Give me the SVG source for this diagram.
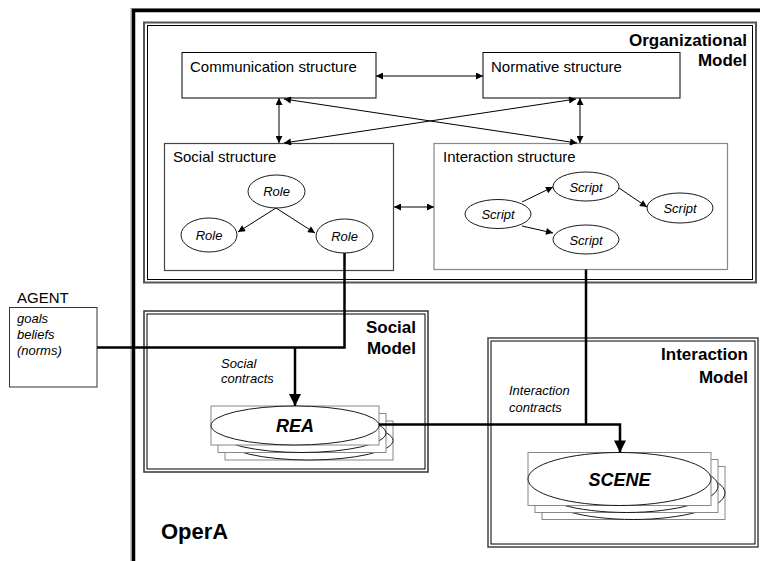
<svg xmlns="http://www.w3.org/2000/svg" width="760" height="561" viewBox="0 0 760 561">
<style>
text{font-family:"Liberation Sans",Arial,sans-serif;fill:#000}
.title{font-weight:bold;font-size:17px}
.lbl{font-size:15px}
.it{font-style:italic;font-size:13px}
.bi{font-style:italic;font-weight:bold;font-size:18px}
.box{fill:#fff;stroke:#000;stroke-width:1}
.gbox{fill:#fff;stroke:#888;stroke-width:1.2}
.ell{fill:#fff;stroke:#000;stroke-width:0.9}
.srect{fill:#fff;stroke:#888;stroke-width:1}
.thin{fill:none;stroke:#000;stroke-width:1}
.thick{fill:none;stroke:#000;stroke-width:2.5}
</style>
<defs>
<marker id="ah" viewBox="0 0 10 10" refX="10" refY="5" markerWidth="8" markerHeight="7" markerUnits="userSpaceOnUse" orient="auto-start-reverse"><path d="M0,0 L10,5 L0,10 z" fill="#000"/></marker>
<marker id="ahb" viewBox="0 0 10 10" refX="10" refY="5" markerWidth="13" markerHeight="12" markerUnits="userSpaceOnUse" orient="auto"><path d="M0,0 L10,5 L0,10 z" fill="#000"/></marker>
</defs>
<rect width="760" height="561" fill="#fff"/>

<g id="opera">
<rect x="131" y="8.5" width="700" height="600" fill="none" stroke="#999" stroke-width="1"/>
<rect x="133.5" y="10.5" width="700" height="600" fill="none" stroke="#000" stroke-width="3.5"/>
<text x="161" y="539" font-weight="bold" font-size="22px">OperA</text>
</g>

<g id="organizational-model">
<rect x="144" y="22.5" width="612" height="260" fill="none" stroke="#555" stroke-width="2"/>
<rect x="147.5" y="25.5" width="605" height="254" fill="none" stroke="#000" stroke-width="1"/>
<text class="title" x="747" y="46" text-anchor="end">Organizational</text>
<text class="title" x="747" y="66" text-anchor="end">Model</text>
</g>

<g id="communication-structure">
<rect class="box" x="182" y="52.5" width="194" height="45.5"/>
<text class="lbl" x="190" y="72">Communication structure</text>
</g>

<g id="normative-structure">
<rect class="box" x="483" y="52.5" width="197" height="45.5"/>
<text class="lbl" x="491" y="72">Normative structure</text>
</g>

<g id="social-structure">
<rect x="164.5" y="143.5" width="229" height="127" fill="#fff" stroke="#444" stroke-width="1.2"/>
<text class="lbl" x="173" y="162">Social structure</text>
</g>
<g id="role-top"><ellipse class="ell" cx="276.5" cy="191.5" rx="28.5" ry="16.5"/><text class="it" x="276.5" y="196" text-anchor="middle">Role</text></g>
<g id="role-left"><ellipse class="ell" cx="209" cy="235" rx="28" ry="17"/><text class="it" x="209" y="240" text-anchor="middle">Role</text></g>
<g id="role-right"><ellipse class="ell" cx="344.5" cy="236" rx="28.5" ry="17"/><text class="it" x="344.5" y="241" text-anchor="middle">Role</text></g>

<g id="interaction-structure">
<rect class="gbox" x="434" y="143.5" width="293.5" height="126"/>
<text class="lbl" x="443" y="162">Interaction structure</text>
</g>
<g id="script-left"><ellipse class="ell" cx="498" cy="214" rx="33" ry="14.5"/><text class="it" x="498" y="219" text-anchor="middle">Script</text></g>
<g id="script-top"><ellipse class="ell" cx="586" cy="186.5" rx="33" ry="14.5"/><text class="it" x="586" y="191.5" text-anchor="middle">Script</text></g>
<g id="script-bottom"><ellipse class="ell" cx="586" cy="239.5" rx="33" ry="14.5"/><text class="it" x="586" y="244.5" text-anchor="middle">Script</text></g>
<g id="script-right"><ellipse class="ell" cx="680" cy="208" rx="33" ry="15"/><text class="it" x="680" y="213" text-anchor="middle">Script</text></g>

<g id="agent">
<text x="17" y="303" font-size="15px">AGENT</text>
<rect x="9.5" y="307.5" width="87.5" height="79.5" fill="#fff" stroke="#333" stroke-width="1"/>
<text class="it" x="17" y="323" fill="#222">goals</text>
<text class="it" x="17" y="339" fill="#222">beliefs</text>
<text class="it" x="17" y="355" fill="#222">(norms)</text>
</g>

<g id="social-model">
<rect x="144" y="311" width="284" height="161" fill="none" stroke="#333" stroke-width="1.5"/>
<rect x="147" y="314" width="278" height="155" fill="none" stroke="#000" stroke-width="1"/>
<text class="title" x="416" y="333" text-anchor="end">Social</text>
<text class="title" x="416" y="354" text-anchor="end">Model</text>
<text class="it" x="221" y="368" fill="#222">Social</text>
<text class="it" x="221" y="383" fill="#222">contracts</text>
</g>

<g id="interaction-model">
<rect x="488" y="338" width="270" height="209" fill="none" stroke="#444" stroke-width="1.5"/>
<rect x="491" y="341" width="264" height="203" fill="none" stroke="#000" stroke-width="1"/>
<text class="title" x="748" y="360" text-anchor="end">Interaction</text>
<text class="title" x="748" y="383" text-anchor="end">Model</text>
<text class="it" x="509" y="395" fill="#222">Interaction</text>
<text class="it" x="509" y="412" fill="#222">contracts</text>
</g>

<g id="rea">
<rect class="srect" x="225" y="421" width="168" height="39"/>
<ellipse class="ell" cx="309" cy="440.5" rx="84" ry="19.5"/>
<rect class="srect" x="218" y="413.5" width="168" height="39"/>
<ellipse class="ell" cx="302" cy="433" rx="84" ry="19.5"/>
<rect class="srect" x="211" y="406" width="168" height="39"/>
<ellipse class="ell" cx="295" cy="425.5" rx="84" ry="19.5"/>
<text class="bi" x="295" y="432" text-anchor="middle">REA</text>
</g>

<g id="scene">
<rect class="srect" x="542" y="466.5" width="183" height="53"/>
<ellipse class="ell" cx="633.5" cy="493" rx="91.5" ry="26.5"/>
<rect class="srect" x="535" y="459.5" width="183" height="53"/>
<ellipse class="ell" cx="626.5" cy="486" rx="91.5" ry="26.5"/>
<rect class="srect" x="528" y="452.5" width="183" height="53"/>
<ellipse class="ell" cx="619.5" cy="479" rx="91.5" ry="26.5"/>
<text class="bi" x="619.5" y="486" text-anchor="middle">SCENE</text>
</g>

<g id="connectors">
<path class="thin" d="M376,76 L483,76" marker-start="url(#ah)" marker-end="url(#ah)"/>
<path class="thin" d="M279,98 L279,143" marker-start="url(#ah)" marker-end="url(#ah)"/>
<path class="thin" d="M580,98 L580,143" marker-start="url(#ah)" marker-end="url(#ah)"/>
<path class="thin" d="M284,99 L577,143" marker-start="url(#ah)" marker-end="url(#ah)"/>
<path class="thin" d="M576,99 L284,143" marker-start="url(#ah)" marker-end="url(#ah)"/>
<path class="thin" d="M394,207 L434,207" marker-start="url(#ah)" marker-end="url(#ah)"/>
<path class="thin" d="M276,208 L238,232" marker-end="url(#ah)"/>
<path class="thin" d="M276,208 L315,233" marker-end="url(#ah)"/>
<path class="thin" d="M522,202 L553,187" marker-end="url(#ah)"/>
<path class="thin" d="M522,226 L553,233" marker-end="url(#ah)"/>
<path class="thin" d="M619,188 L647,207" marker-end="url(#ah)"/>
<path class="thick" d="M344.5,253 L344.5,347.5 L97,347.5"/>
<path class="thick" d="M295,347.5 L295,406" marker-end="url(#ahb)"/>
<path class="thick" d="M586,269.5 L586,424.5"/>
<path class="thick" d="M379,424.5 L620,424.5 L620,452.5" marker-end="url(#ahb)"/>
</g>
</svg>
